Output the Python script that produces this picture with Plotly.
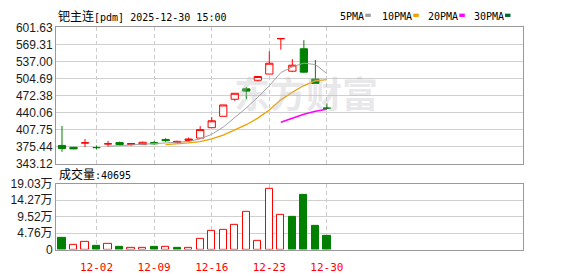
import plotly.graph_objects as go
import pandas as pd

# ---------------- data ----------------
dates = ["11-27", "11-28", "12-01", "12-02", "12-03", "12-04", "12-05", "12-08",
         "12-09", "12-10", "12-11", "12-12", "12-15", "12-16", "12-17", "12-18",
         "12-19", "12-22", "12-23", "12-24", "12-25", "12-26", "12-29", "12-30"]
opens = [378.1, 374.6, 382.9, 374.1, 381.1, 383.5, 379.8, 379.8, 383.5, 389.4, 383.5, 387.6,
         392.0, 411.7, 433.3, 465.6, 485.3, 501.5, 513.3, 580.3, 518.7, 561.2, 503.8, 448.8]
highs = [415.0, 375.5, 390.2, 378.1, 386.6, 385.3, 382.3, 385.3, 386.6, 392.0, 387.1, 393.1,
         414.6, 432.0, 454.8, 476.9, 488.9, 508.6, 556.4, 580.4, 541.5, 577.4, 539.7, 457.7]
lows = [366.1, 371.0, 375.1, 370.9, 375.8, 377.6, 377.6, 379.0, 379.4, 384.8, 381.7, 386.6,
        392.0, 411.7, 433.3, 462.5, 465.6, 498.9, 513.3, 559.4, 516.9, 515.8, 495.4, 448.7]
closes = [372.2, 371.6, 383.0, 374.0, 381.2, 379.8, 381.7, 384.1, 381.2, 387.1, 385.9, 390.2,
          408.1, 424.8, 454.8, 476.9, 481.0, 508.6, 533.8, 580.4, 530.1, 516.9, 495.4, 448.7]
volumes = [32500, 12400, 22600, 10500, 15100, 6900, 4100, 4100, 6900, 7700, 4100, 4100,
           31600, 53600, 56400, 70100, 108600, 26100, 176600, 99600, 94900, 159000, 67400, 40695]
vol_dir = ["down", "up", "up", "down", "up", "down", "up", "up", "down", "up", "down", "up",
           "up", "up", "up", "up", "up", "up", "up", "up", "down", "down", "down", "down"]

label_dates = ["12-02", "12-09", "12-16", "12-23", "12-30"]
price_ticks = [343.12, 375.44, 407.75, 440.06, 472.38, 504.69, 537.00, 569.31, 601.63]
price_tick_text = ["343.12", "375.44", "407.75", "440.06", "472.38", "504.69", "537.00", "569.31", "601.63"]
vol_ticks = [0, 47600, 95200, 142700, 190300]
vol_tick_text = ["0", "4.76万", "9.52万", "14.27万", "19.03万"]
ma_periods = [5, 10, 20, 30]
ma_names = ["5PMA", "10PMA", "20PMA", "30PMA"]

title_name = "钯主连"
title_rest = "[pdm] 2025-12-30 15:00"
vol_label = "成交量"
last_volume = "40695"

# ---------------- styles ----------------
W, H = 578, 276
RED = "#ff0000"
GREEN = "#008000"
ma_colors = ["#a0a0a0", "#f0a000", "#ff00ff", "#006b30"]
ma_widths = [1, 1.3, 1.5, 1.5]
GRID = "#d0d0d0"
FRAME = "#999999"
LABEL_COLOR = "#1a1a1a"

X_LEFT, X_RIGHT = 56, 522.7
P_TOP, P_BOT = 21.5, 165.3
V_TOP, V_BOT = 186.3, 255.5

def px_x(p):
    return p / W

def px_y(p):
    return 1 - p / H

idx = list(range(len(dates)))
tickvals = [dates.index(d) for d in label_dates]

fig = go.Figure()

fig.add_trace(go.Candlestick(
    x=idx, open=opens, high=highs, low=lows, close=closes,
    increasing=dict(line=dict(color=RED, width=1), fillcolor="white"),
    decreasing=dict(line=dict(color=GREEN, width=1), fillcolor=GREEN),
    whiskerwidth=0, hoverinfo="skip", showlegend=False,
    xaxis="x", yaxis="y",
))

close_s = pd.Series(closes)
for p, name, col, lw in zip(ma_periods, ma_names, ma_colors, ma_widths):
    ma = close_s.rolling(p).mean()
    fig.add_trace(go.Scatter(
        x=idx, y=ma.tolist(), mode="lines", name=name,
        line=dict(color=col, width=lw), hoverinfo="skip", showlegend=False,
        xaxis="x", yaxis="y",
    ))

bar_fill = ["white" if d == "up" else GREEN for d in vol_dir]
bar_line = [RED if d == "up" else GREEN for d in vol_dir]
fig.add_trace(go.Bar(
    x=idx, y=volumes, width=0.63,
    marker=dict(color=bar_fill, line=dict(color=bar_line, width=1)),
    hoverinfo="skip", showlegend=False, xaxis="x2", yaxis="y2",
))

x_dom = [px_x(X_LEFT), px_x(X_RIGHT)]
common_x = dict(
    domain=x_dom, range=[-0.52, 40.0], tickvals=tickvals,
    showgrid=True, gridcolor="#cccccc", griddash="4px,3px", gridwidth=1,
    showline=True, mirror=True, linecolor=FRAME, linewidth=1,
    zeroline=False, ticks="", fixedrange=True,
)
tick_font = dict(family="Liberation Sans, Arial, Noto Sans CJK SC", size=12, color=LABEL_COLOR)
common_y = dict(
    showgrid=True, gridcolor=GRID, gridwidth=1,
    showline=True, mirror=True, linecolor=FRAME, linewidth=1,
    zeroline=False, ticks="", tickfont=tick_font, fixedrange=True,
)

fig.update_layout(
    width=W, height=H,
    margin=dict(l=0, r=0, t=0, b=0),
    paper_bgcolor="white", plot_bgcolor="white",
    boxgap=0.37, boxgroupgap=0,
    bargap=0,
    xaxis=dict(**common_x, anchor="y", showticklabels=False,
               rangeslider=dict(visible=False)),
    yaxis=dict(**common_y, domain=[px_y(P_BOT), px_y(P_TOP)], anchor="x",
               range=[price_ticks[0], price_ticks[-1]],
               tickvals=price_ticks, ticktext=price_tick_text),
    xaxis2=dict(**common_x, anchor="y2", matches="x",
                ticktext=label_dates, ticklabelstandoff=7,
                tickfont=dict(family="DejaVu Sans Mono", size=11, color=RED)),
    yaxis2=dict(**common_y, domain=[px_y(V_BOT), px_y(V_TOP)], anchor="x2",
                range=[vol_ticks[0], vol_ticks[-1]],
                tickvals=vol_ticks, ticktext=vol_tick_text),
    showlegend=False,
)

mono = "DejaVu Sans Mono, Noto Sans CJK SC"
annotations = [
    dict(text=f"<span style='font-size:12px'>{title_name}</span>{title_rest}",
         x=px_x(56), y=px_y(9.5), xanchor="left", yanchor="middle",
         font=dict(family=mono, size=10, color="black")),
    dict(text=f"<span style='font-size:12px'>{vol_label}</span>:{last_volume}",
         x=px_x(57), y=px_y(176.5), xanchor="left", yanchor="middle",
         font=dict(family=mono, size=10, color="black")),
    dict(text="东方财富", x=px_x(306), y=px_y(90), xanchor="center", yanchor="middle",
         font=dict(family="Noto Sans CJK SC", size=36, color="rgba(190,190,198,0.35)", weight="bold")),
]
leg_x = [338.3, 380, 426, 471.7]
sq_x = [365.3, 413.3, 459.3, 505]
shapes = []
for name, lx, sx, col in zip(ma_names, leg_x, sq_x, ma_colors):
    annotations.append(dict(text=name, x=px_x(lx), y=px_y(9.5), xanchor="left", yanchor="middle",
                            font=dict(family=mono, size=10, color="black")))
    shapes.append(dict(type="rect", xref="paper", yref="paper",
                       x0=px_x(sx), x1=px_x(sx + 5.5), y0=px_y(10.5), y1=px_y(7),
                       fillcolor=col, line=dict(width=0)))
for a in annotations:
    a.update(xref="paper", yref="paper", showarrow=False)
fig.update_layout(annotations=annotations, shapes=shapes)

fig.write_html("out.html")
